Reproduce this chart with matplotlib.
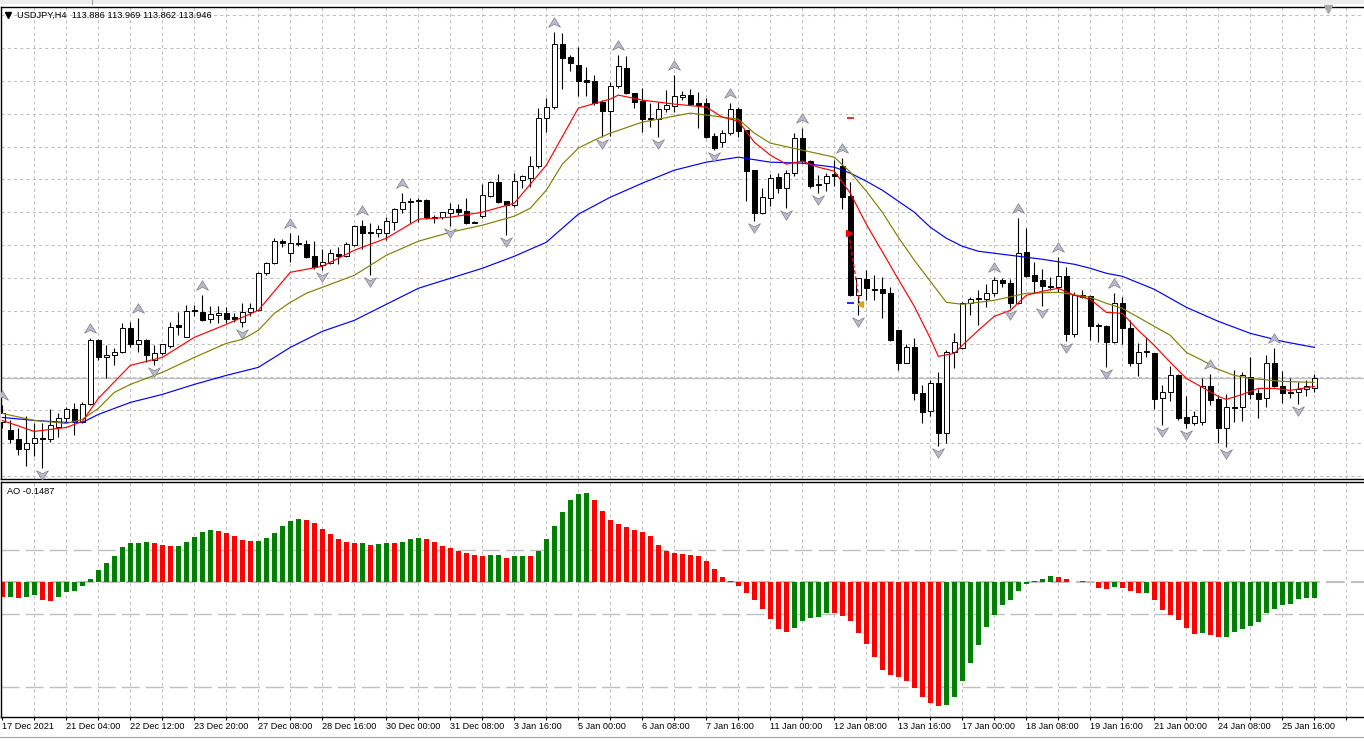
"""
USDJPY H4 chart in MetaTrader style: candles, three moving averages,
fractal arrows and the Awesome Oscillator panel underneath.
"""

import numpy as np
import matplotlib.pyplot as plt
from matplotlib.path import Path
from matplotlib.patches import Rectangle

# --- Data ---
symbol = "USDJPY,H4"
last_ohlc = "113.886 113.969 113.862 113.946"
bid = 113.946
ao_last = "-0.1487"

opens = [
    113.678, 113.63, 113.576, 113.516, 113.552, 113.582, 113.576, 113.648, 113.702, 113.756,
    113.678, 113.786, 114.17, 114.068, 114.08, 114.098, 114.242, 114.146, 114.17, 114.05,
    114.092, 114.134, 114.26, 114.188, 114.35, 114.338, 114.296, 114.32, 114.332, 114.308,
    114.278, 114.338, 114.35, 114.572, 114.632, 114.764, 114.692, 114.752, 114.746, 114.674,
    114.62, 114.632, 114.686, 114.674, 114.74, 114.854, 114.818, 114.812, 114.812, 114.878,
    114.956, 115.004, 115.01, 115.01, 114.908, 114.908, 114.932, 114.956, 114.944, 114.878,
    114.914, 115.034, 115.118, 115.004, 114.98, 115.13, 115.142, 115.214, 115.502, 115.568,
    115.946, 115.868, 115.82, 115.73, 115.724, 115.598, 115.544, 115.694, 115.802, 115.652,
    115.604, 115.502, 115.496, 115.556, 115.574, 115.628, 115.64, 115.592, 115.592, 115.394,
    115.358, 115.412, 115.556, 115.43, 115.19, 114.932, 115.022, 115.148, 115.082, 115.172,
    115.382, 115.244, 115.106, 115.112, 115.166, 115.214, 115.034, 114.44, 114.536, 114.476,
    114.476, 114.452, 114.23, 114.032, 114.128, 113.852, 113.744, 113.912, 113.612, 114.098,
    114.122, 114.392, 114.422, 114.416, 114.452, 114.53, 114.512, 114.392, 114.698, 114.56,
    114.53, 114.494, 114.488, 114.554, 114.206, 114.44, 114.434, 114.26, 114.254, 114.158,
    114.392, 114.242, 114.032, 114.104, 114.092, 113.822, 113.858, 113.96, 113.708, 113.672,
    113.678, 113.894, 113.816, 113.642, 113.768, 113.768, 113.948, 113.852, 113.822, 114.032,
    113.894, 113.858, 113.858, 113.876, 113.886,
]
highs = [
    113.78, 113.69, 113.642, 113.714, 113.672, 113.672, 113.756, 113.732, 113.768, 113.792,
    113.798, 114.182, 114.176, 114.14, 114.122, 114.272, 114.278, 114.302, 114.176, 114.14,
    114.146, 114.278, 114.338, 114.38, 114.38, 114.44, 114.374, 114.374, 114.368, 114.332,
    114.392, 114.392, 114.578, 114.638, 114.782, 114.776, 114.812, 114.80, 114.77, 114.764,
    114.716, 114.716, 114.728, 114.758, 114.86, 114.89, 114.872, 114.86, 114.908, 114.962,
    115.052, 115.022, 115.022, 115.016, 114.92, 114.938, 114.992, 114.986, 115.022, 114.884,
    115.106, 115.124, 115.166, 115.004, 115.172, 115.16, 115.274, 115.562, 115.622, 116.018,
    116.012, 115.88, 115.928, 115.808, 115.76, 115.61, 115.718, 115.88, 115.874, 115.652,
    115.682, 115.592, 115.598, 115.67, 115.76, 115.664, 115.676, 115.658, 115.622, 115.412,
    115.43, 115.592, 115.568, 115.43, 115.19, 115.082, 115.166, 115.172, 115.19, 115.412,
    115.442, 115.25, 115.16, 115.172, 115.25, 115.262, 115.118, 114.542, 114.59, 114.56,
    114.548, 114.488, 114.23, 114.146, 114.182, 113.90, 113.93, 113.978, 114.11, 114.212,
    114.398, 114.428, 114.47, 114.506, 114.548, 114.542, 114.536, 114.902, 114.842, 114.638,
    114.596, 114.548, 114.668, 114.608, 114.458, 114.47, 114.44, 114.272, 114.26, 114.452,
    114.428, 114.29, 114.152, 114.188, 114.092, 113.90, 114.014, 113.966, 113.834, 113.744,
    113.942, 113.966, 113.84, 113.846, 113.99, 113.978, 114.068, 113.876, 114.08, 114.122,
    113.984, 113.942, 113.918, 113.93, 113.969,
]
lows = [
    113.642, 113.552, 113.48, 113.414, 113.474, 113.402, 113.558, 113.588, 113.678, 113.60,
    113.672, 113.78, 114.05, 113.942, 114.02, 114.092, 114.128, 114.098, 114.038, 114.02,
    114.08, 114.122, 114.20, 114.188, 114.314, 114.284, 114.272, 114.272, 114.272, 114.278,
    114.248, 114.314, 114.344, 114.56, 114.626, 114.728, 114.638, 114.734, 114.662, 114.596,
    114.59, 114.626, 114.626, 114.668, 114.734, 114.716, 114.56, 114.788, 114.77, 114.83,
    114.932, 114.872, 114.878, 114.896, 114.872, 114.896, 114.854, 114.92, 114.866, 114.872,
    114.902, 115.028, 114.992, 114.80, 114.968, 115.082, 115.088, 115.202, 115.418, 115.556,
    115.676, 115.784, 115.634, 115.634, 115.58, 115.388, 115.394, 115.682, 115.646, 115.562,
    115.418, 115.448, 115.388, 115.538, 115.538, 115.61, 115.58, 115.442, 115.382, 115.31,
    115.328, 115.40, 115.388, 115.004, 114.884, 114.926, 114.974, 115.052, 114.962, 115.154,
    115.232, 115.082, 115.052, 115.064, 115.094, 114.956, 114.434, 114.32, 114.41, 114.41,
    114.302, 114.164, 113.99, 114.032, 113.81, 113.672, 113.714, 113.534, 113.552, 114.002,
    114.116, 114.32, 114.26, 114.368, 114.434, 114.488, 114.362, 114.386, 114.548, 114.452,
    114.374, 114.47, 114.458, 114.164, 114.188, 114.422, 114.17, 114.158, 114.008, 114.152,
    114.146, 114.014, 113.954, 114.068, 113.756, 113.66, 113.804, 113.69, 113.642, 113.66,
    113.66, 113.78, 113.552, 113.528, 113.678, 113.684, 113.816, 113.702, 113.768, 113.888,
    113.792, 113.822, 113.786, 113.834, 113.862,
]
closes = [
    113.732, 113.576, 113.516, 113.552, 113.582, 113.576, 113.66, 113.702, 113.756, 113.678,
    113.786, 114.17, 114.068, 114.08, 114.098, 114.242, 114.146, 114.17, 114.08, 114.092,
    114.146, 114.248, 114.248, 114.344, 114.344, 114.29, 114.326, 114.332, 114.296, 114.296,
    114.338, 114.362, 114.572, 114.632, 114.764, 114.752, 114.752, 114.746, 114.668, 114.608,
    114.638, 114.692, 114.674, 114.746, 114.854, 114.812, 114.812, 114.836, 114.884, 114.956,
    114.998, 114.998, 115.004, 114.908, 114.902, 114.938, 114.956, 114.938, 114.872, 114.872,
    115.04, 115.118, 114.998, 114.98, 115.124, 115.154, 115.214, 115.502, 115.568, 115.946,
    115.862, 115.832, 115.724, 115.718, 115.592, 115.544, 115.694, 115.814, 115.652, 115.598,
    115.496, 115.496, 115.556, 115.58, 115.634, 115.64, 115.586, 115.58, 115.388, 115.322,
    115.412, 115.556, 115.424, 115.184, 114.932, 115.028, 115.142, 115.082, 115.172, 115.382,
    115.244, 115.094, 115.10, 115.154, 115.154, 115.028, 114.44, 114.542, 114.482, 114.47,
    114.452, 114.17, 114.032, 114.128, 113.852, 113.738, 113.912, 113.612, 114.098, 114.158,
    114.392, 114.416, 114.416, 114.452, 114.53, 114.512, 114.392, 114.692, 114.554, 114.524,
    114.494, 114.488, 114.554, 114.206, 114.44, 114.428, 114.254, 114.254, 114.158, 114.392,
    114.242, 114.032, 114.098, 114.098, 113.816, 113.858, 113.96, 113.702, 113.672, 113.714,
    113.894, 113.81, 113.642, 113.768, 113.762, 113.96, 113.846, 113.816, 114.032, 113.894,
    113.852, 113.852, 113.876, 113.894, 113.946,
]

# moving averages, sampled at the bars listed in *_idx
red_idx = [0, 4, 8, 10, 12, 16, 20, 24, 28, 32, 36, 40, 44, 48, 52, 56, 60, 64, 68, 72,
           76, 77, 80, 84, 88, 90, 92, 94, 96, 98, 100, 102, 104, 106, 108, 112, 114, 116,
           117, 119, 120, 122, 124, 126, 128, 130, 132, 134, 136, 138, 140, 142, 144, 146,
           148, 150, 152, 153, 155, 157, 159, 161, 164]
red_ma = [113.69, 113.624, 113.648, 113.684, 113.822, 114.02, 114.068, 114.188, 114.266,
          114.35, 114.578, 114.614, 114.71, 114.782, 114.896, 114.908, 114.938, 114.992,
          115.22, 115.562, 115.616, 115.64, 115.61, 115.586, 115.568, 115.508, 115.484,
          115.358, 115.28, 115.226, 115.244, 115.208, 115.184, 115.052, 114.866, 114.536,
          114.374, 114.182, 114.074, 114.092, 114.14, 114.23, 114.314, 114.35, 114.44,
          114.464, 114.482, 114.44, 114.416, 114.338, 114.332, 114.23, 114.14, 114.038,
          113.942, 113.888, 113.834, 113.816, 113.846, 113.882, 113.882, 113.87, 113.894]

olive_idx = [0, 4, 8, 10, 12, 14, 16, 19, 20, 24, 28, 30, 32, 34, 36, 38, 40, 44, 48, 52,
             56, 60, 64, 66, 68, 70, 72, 74, 76, 80, 84, 86, 88, 92, 94, 96, 100, 104, 106,
             108, 110, 112, 114, 116, 118, 120, 124, 128, 132, 136, 138, 140, 142, 144, 146,
             148, 150, 152, 154, 156, 160, 164]
olive_ma = [113.732, 113.69, 113.672, 113.696, 113.762, 113.858, 113.906, 113.96, 113.978,
            114.068, 114.152, 114.176, 114.23, 114.332, 114.398, 114.452, 114.488, 114.56,
            114.68, 114.764, 114.818, 114.86, 114.914, 114.962, 115.07, 115.226, 115.322,
            115.37, 115.412, 115.478, 115.514, 115.532, 115.52, 115.496, 115.412, 115.352,
            115.31, 115.268, 115.178, 115.064, 114.938, 114.788, 114.65, 114.524, 114.398,
            114.386, 114.41, 114.452, 114.458, 114.428, 114.392, 114.362, 114.308, 114.254,
            114.20, 114.098, 114.05, 113.996, 113.96, 113.942, 113.924, 113.918]

blue_idx = [0, 4, 8, 10, 12, 16, 20, 24, 28, 32, 36, 40, 44, 48, 52, 56, 60, 64, 68, 72,
            76, 80, 84, 88, 92, 96, 100, 104, 106, 108, 110, 112, 114, 116, 118, 120, 122,
            126, 130, 134, 136, 138, 140, 144, 148, 152, 156, 160, 164]
blue_ma = [113.708, 113.69, 113.678, 113.678, 113.726, 113.798, 113.846, 113.906, 113.96,
           114.008, 114.128, 114.224, 114.29, 114.386, 114.482, 114.542, 114.602, 114.674,
           114.758, 114.926, 115.028, 115.112, 115.19, 115.238, 115.268, 115.238, 115.232,
           115.208, 115.172, 115.124, 115.07, 115.004, 114.938, 114.848, 114.782, 114.734,
           114.704, 114.68, 114.656, 114.626, 114.602, 114.572, 114.554, 114.476, 114.368,
           114.284, 114.212, 114.164, 114.128]

fractal_up = [0, 11, 17, 25, 36, 45, 50, 69, 77, 84, 91, 100, 105, 124, 127, 132, 139, 151, 159]
fractal_down = [5, 19, 30, 40, 46, 56, 63, 75, 82, 89, 94, 98, 102, 107, 117, 126, 130, 133,
                138, 145, 148, 153, 162]

ao = [
    -0.143, -0.141, -0.152, -0.143, -0.126, -0.174, -0.177, -0.143, -0.098, -0.086,
    -0.038, 0.029, 0.111, 0.178, 0.244, 0.330, 0.368, 0.372, 0.377, 0.368,
    0.349, 0.339, 0.341, 0.377, 0.425, 0.472, 0.491, 0.482, 0.463, 0.434,
    0.396, 0.387, 0.389, 0.415, 0.463, 0.529, 0.577, 0.596, 0.594, 0.558,
    0.501, 0.453, 0.406, 0.377, 0.368, 0.370, 0.349, 0.358, 0.368, 0.367,
    0.377, 0.406, 0.415, 0.406, 0.377, 0.339, 0.320, 0.292, 0.273, 0.254,
    0.244, 0.254, 0.256, 0.225, 0.244, 0.245, 0.243, 0.292, 0.406, 0.529,
    0.662, 0.776, 0.833, 0.843, 0.776, 0.672, 0.586, 0.548, 0.520, 0.491,
    0.472, 0.434, 0.349, 0.292, 0.273, 0.263, 0.254, 0.244, 0.197, 0.121,
    0.045, 0.007, -0.038, -0.105, -0.171, -0.257, -0.352, -0.447, -0.475, -0.437,
    -0.371, -0.342, -0.333, -0.295, -0.296, -0.323, -0.371, -0.485, -0.589, -0.713,
    -0.836, -0.886, -0.905, -0.943, -1.010, -1.095, -1.152, -1.181, -1.171, -1.095,
    -0.943, -0.772, -0.601, -0.430, -0.316, -0.221, -0.174, -0.088, -0.022, 0.013,
    0.026, 0.054, 0.052, 0.026, 0.002, 0.013, -0.002, -0.057, -0.067, -0.048,
    -0.057, -0.086, -0.105, -0.103, -0.171, -0.266, -0.314, -0.361, -0.437, -0.494,
    -0.485, -0.504, -0.523, -0.522, -0.475, -0.447, -0.418, -0.380, -0.295, -0.257,
    -0.219, -0.209, -0.162, -0.152, -0.1487,
]
ao_levels = [0.3, -0.3, -1.0]

# closed trade drawn on the chart: open, close, stop loss, take profit
trade_open = (105.8, 114.812)
trade_close = (107.2, 114.386)
trade_sl = 115.502
trade_tp = 114.392

date_labels = ["17 Dec 2021", "21 Dec 04:00", "22 Dec 12:00", "23 Dec 20:00",
               "27 Dec 08:00", "28 Dec 16:00", "30 Dec 00:00", "31 Dec 08:00",
               "3 Jan 16:00", "5 Jan 00:00", "6 Jan 08:00", "7 Jan 16:00",
               "11 Jan 00:00", "12 Jan 08:00", "13 Jan 16:00", "17 Jan 00:00",
               "18 Jan 08:00", "19 Jan 16:00", "21 Jan 00:00", "24 Jan 08:00",
               "25 Jan 16:00"]

# --- Figure ---
W, H = 1364, 741
FONT = "Liberation Sans"
GRID = "#c0c0c0"

fig = plt.figure(figsize=(W / 100, H / 100), dpi=100)
fig.patch.set_facecolor("white")


def px_box(left, top, right, bottom):
    return [left / W, 1 - bottom / H, (right - left) / W, (bottom - top) / H]


ax = fig.add_axes(px_box(1, 6.5, 1364, 479))
ax_ao = fig.add_axes(px_box(1, 481.5, 1364, 716.7))

n = len(closes)
idx = np.arange(n)
xlim = (-0.166, 170.21)
vgrid = np.arange(4, 172, 4)

# price panel
ax.set_xlim(*xlim)
ax.set_ylim(113.339, 116.171)
ax.set_xticks(vgrid)
ax.set_yticks(116.1212 - 0.1974 * np.arange(15))
ax.grid(True, color=GRID, linestyle=(0, (3, 3)), linewidth=0.75, zorder=0)
ax.tick_params(length=0, labelleft=False, labelbottom=False)
ax.set_axisbelow(True)
ax.axhline(bid, color=GRID, linewidth=1.0, zorder=1)

o = np.array(opens)
c = np.array(closes)
ax.vlines(idx, lows, highs, color="black", linewidth=0.8, zorder=2)
body_lo = np.minimum(o, c)
body_h = np.abs(c - o)
fills = np.where(c > o, "white", "black")
ax.bar(idx, body_h, bottom=body_lo, width=0.55, color=fills, edgecolor="black",
       linewidth=0.7, zorder=3)

ax.plot(blue_idx, blue_ma, color="#0000ff", linewidth=0.85, zorder=4)
ax.plot(olive_idx, olive_ma, color="#808000", linewidth=0.85, zorder=4)
ax.plot(red_idx, red_ma, color="#ff0000", linewidth=0.85, zorder=4)

# fractal arrows
up_path = Path([(0, 0.8), (1, -0.8), (0, -0.3), (-1, -0.8), (0, 0.8)],
               [Path.MOVETO, Path.LINETO, Path.LINETO, Path.LINETO, Path.CLOSEPOLY])
down_path = Path([(0, -0.8), (1, 0.8), (0, 0.3), (-1, 0.8), (0, -0.8)],
                 [Path.MOVETO, Path.LINETO, Path.LINETO, Path.LINETO, Path.CLOSEPOLY])
hi = np.array(highs)
lo = np.array(lows)
ax.plot(fractal_up, hi[fractal_up] + 0.06, linestyle="none", marker=up_path,
        markersize=8.6, markerfacecolor="#b9b9c9", markeredgecolor="#80808f",
        markeredgewidth=0.5, zorder=5)
ax.plot(fractal_down, lo[fractal_down] - 0.042, linestyle="none", marker=down_path,
        markersize=8.6, markerfacecolor="#b9b9c9", markeredgecolor="#80808f",
        markeredgewidth=0.5, zorder=5)

# trade markers
ax.hlines(trade_sl, 105.6, 106.5, color="#ff0000", linewidth=1.2, zorder=5)
ax.hlines(trade_tp, 105.6, 106.5, color="#0000ff", linewidth=1.2, zorder=5)
ax.plot([trade_open[0], trade_close[0]], [trade_open[1], trade_close[1]],
        color="#ff0000", linestyle=(0, (3, 2)), linewidth=0.9, zorder=5)
ax.plot(*trade_open, marker=">", color="#ff0000", markersize=5, zorder=6)
ax.plot(*trade_close, marker="<", color="#daa520", markersize=5, zorder=6)

for side in ["top", "left", "bottom"]:
    ax.spines[side].set_linewidth(1.0)
    ax.spines[side].set_color("black")
ax.spines["right"].set_visible(False)

# AO panel
ax_ao.set_xlim(*xlim)
ax_ao.set_ylim(-1.2825, 0.9567)
ax_ao.vlines(vgrid, -1.2825, 0.9567, color=GRID, linestyle=(0, (3, 3)),
             linewidth=0.75, zorder=0)
for lvl in ao_levels:
    ax_ao.axhline(lvl, color=GRID, linestyle=(0, (13, 4.3)), linewidth=1.0, zorder=0)
ax_ao.axhline(0, color=GRID, linestyle=(0, (9, 3)), linewidth=1.5, zorder=0)

ao_arr = np.array(ao)
ao_colors = ["#008000" if i > 0 and ao_arr[i] > ao_arr[i - 1] else "#ff0000"
             for i in range(n)]
ax_ao.bar(idx, ao_arr, width=0.6, color=ao_colors, linewidth=0, zorder=2)

major = np.arange(0, 161, 8)
minor = np.array([t for t in range(4, 172, 4) if t % 8 or t > 160])
ax_ao.set_xticks(major)
ax_ao.set_xticks(minor, minor=True)
ax_ao.set_xticklabels(date_labels, ha="left", fontsize=6.6, fontfamily=FONT)
ax_ao.tick_params(axis="x", which="both", direction="out", length=2.4, width=0.75,
                  pad=1.5, color="black")
ax_ao.tick_params(axis="y", length=0, labelleft=False)
for side in ["top", "left", "bottom"]:
    ax_ao.spines[side].set_linewidth(1.0)
    ax_ao.spines[side].set_color("black")
ax_ao.spines["right"].set_visible(False)

# window chrome and labels
fig.patches.append(Rectangle((0, 1 - 4 / H), 1, 4 / H, transform=fig.transFigure,
                             facecolor="#ececec", edgecolor="none", zorder=0))
fig.add_artist(plt.Line2D([92 / W, 92 / W], [1 - 4 / H, 1], color="#a0a0a0",
                          linewidth=0.8, transform=fig.transFigure))
fig.add_artist(plt.Line2D([0, 1], [1 - 736.5 / H, 1 - 736.5 / H], color="#a0a0a0",
                          linewidth=0.8, transform=fig.transFigure))
fig.add_artist(plt.Line2D([8 / W], [1 - 14.5 / H], marker="v", color="black",
                          markersize=4.5, linestyle="none", transform=fig.transFigure))
fig.add_artist(plt.Line2D([1328 / W], [1 - 8.5 / H], marker="v", color="#a8a8a8",
                          markersize=6, linestyle="none", transform=fig.transFigure))
fig.text(17 / W, 1 - 15 / H, f"{symbol}  {last_ohlc}", fontsize=6.7, fontfamily=FONT,
         va="center", ha="left", color="black")
fig.text(7 / W, 1 - 491 / H, f"AO {ao_last}", fontsize=6.7, fontfamily=FONT,
         va="center", ha="left", color="black")

fig.savefig("out.png", dpi=100, facecolor="white")
plt.close(fig)
